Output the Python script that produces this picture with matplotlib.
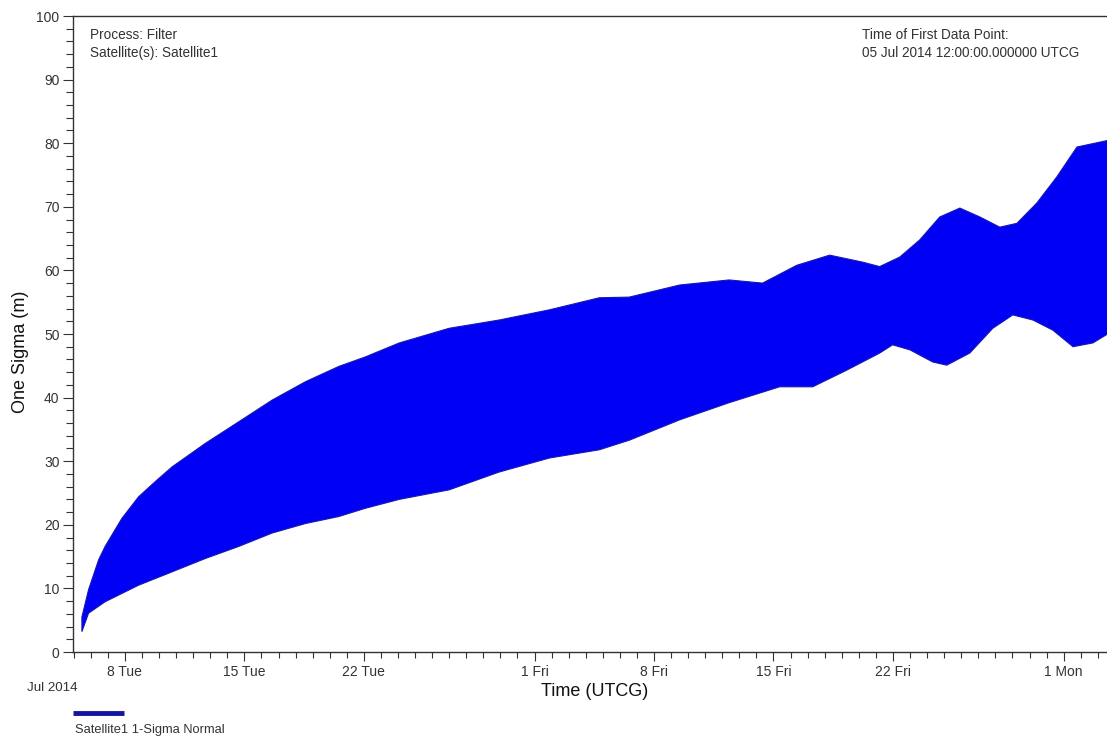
import numpy as np
import matplotlib
matplotlib.use("Agg")
import matplotlib.pyplot as plt
import matplotlib.dates as mdates
from datetime import datetime, timedelta

plt.rcParams['font.family'] = ['Liberation Sans', 'DejaVu Sans']

# start of the time axis (days are counted from here)
t0 = datetime(2014, 7, 5)

# upper envelope of the 1-sigma trace (days since t0, metres)
upper_days = [0.48, 0.87, 1.46, 1.84, 2.82, 3.80, 4.78, 5.76, 7.71, 9.67,
              11.62, 13.58, 15.53, 17.09, 19.08, 22.0, 24.93, 27.87, 30.8,
              32.55, 35.5, 38.4, 40.36, 42.36, 44.29, 46.22, 47.22, 48.4,
              49.57, 50.74, 51.92, 53.09, 54.26, 55.26, 56.43, 57.6, 58.78,
              60.7]
upper = [5.5, 9.8, 14.5, 16.6, 21.0, 24.4, 26.8, 29.1, 32.8, 36.2,
         39.6, 42.5, 44.9, 46.4, 48.6, 50.9, 52.2, 53.8, 55.7,
         55.8, 57.7, 58.5, 58.0, 60.8, 62.4, 61.3, 60.6, 62.1,
         64.8, 68.4, 69.8, 68.4, 66.8, 67.4, 70.6, 74.7, 79.4,
         80.5]

# lower envelope of the 1-sigma trace
lower_days = [0.48, 0.87, 1.84, 2.82, 3.80, 5.76, 7.71, 9.67, 11.62, 13.58,
              15.53, 17.09, 19.08, 22.0, 24.93, 27.87, 30.8, 32.55, 35.5,
              38.4, 41.36, 43.3, 45.28, 47.22, 47.98, 49.0, 50.33, 51.15,
              52.5, 53.85, 55.02, 56.2, 57.37, 58.55, 59.72, 60.7]
lower = [3.2, 6.1, 7.9, 9.2, 10.5, 12.6, 14.7, 16.6, 18.7, 20.2,
         21.3, 22.6, 24.0, 25.5, 28.3, 30.5, 31.8, 33.3, 36.5,
         39.2, 41.7, 41.7, 44.3, 47.0, 48.3, 47.5, 45.6, 45.1,
         47.0, 50.9, 53.0, 52.2, 50.6, 48.0, 48.6, 50.2]

tick_dates = ['2014-07-08', '2014-07-15', '2014-07-22', '2014-08-01',
              '2014-08-08', '2014-08-15', '2014-08-22', '2014-09-01']
tick_labels = ['8 Tue', '15 Tue', '22 Tue', '1 Fri',
               '8 Fri', '15 Fri', '22 Fri', '1 Mon']

txt_color = '#333333'

fig = plt.figure(figsize=(11.07, 7.38), dpi=100)
ax = fig.add_axes([73 / 1107, 1 - 652 / 738, 1 - 73 / 1107, (652 - 16) / 738])

up_t = [t0 + timedelta(days=d) for d in upper_days]
lo_t = [t0 + timedelta(days=d) for d in lower_days]
xs = mdates.date2num(up_t + lo_t[::-1])
ys = upper + lower[::-1]
ax.fill(xs, ys, facecolor='#0000f5', edgecolor='#1818b0', linewidth=0.8)

ax.set_xlim(mdates.date2num(t0 - timedelta(hours=1)),
            mdates.date2num(t0 + timedelta(days=60.54)))
ax.set_ylim(0, 100)

# x axis ticks
ax.set_xticks(mdates.date2num([datetime.strptime(s, '%Y-%m-%d') for s in tick_dates]))
ax.set_xticklabels(tick_labels)
ax.xaxis.set_minor_locator(mdates.DayLocator())
ax.set_yticks(np.arange(0, 101, 10))
ax.set_yticks(np.arange(0, 101, 2), minor=True)

ax.tick_params(axis='x', which='major', length=6.5, width=0.8, pad=2.5,
               labelsize=10, colors=txt_color)
ax.tick_params(axis='x', which='minor', length=4, width=0.8, color=txt_color)
ax.tick_params(axis='y', which='major', length=7.2, width=0.8, pad=2.5,
               labelsize=10, colors=txt_color)
ax.tick_params(axis='y', which='minor', length=5, width=0.8, color=txt_color)

for s in ['left', 'top', 'bottom']:
    ax.spines[s].set_color(txt_color)
    ax.spines[s].set_linewidth(1.0)
ax.spines['right'].set_visible(False)

ax.set_xlabel('Time (UTCG)', fontsize=13, color='#111111')
ax.xaxis.set_label_coords((595 - 73) / 1034, -(683 - 652) / 636)
ax.set_ylabel('One Sigma (m)', fontsize=13, color='#111111')
ax.yaxis.set_label_coords(-(73 - 29) / 1034, (652 - 352) / 636)

fig.text(52 / 1107, 1 - 688 / 738, 'Jul 2014', fontsize=9.6, color=txt_color,
         ha='center', va='center')

fig.text(90 / 1107, 1 - 35 / 738, 'Process: Filter', fontsize=9.8,
         color=txt_color, ha='left', va='center')
fig.text(90 / 1107, 1 - 53 / 738, 'Satellite(s): Satellite1', fontsize=9.8,
         color=txt_color, ha='left', va='center')
fig.text(862 / 1107, 1 - 35 / 738, 'Time of First Data Point:', fontsize=9.8,
         color=txt_color, ha='left', va='center')
fig.text(862 / 1107, 1 - 53 / 738, '05 Jul 2014 12:00:00.000000 UTCG',
         fontsize=9.8, color=txt_color, ha='left', va='center')

# legend drawn by hand under the axis
fig.add_artist(plt.Line2D([73 / 1107, 124 / 1107], [1 - 713 / 738, 1 - 713 / 738],
                          color='#1414a0', linewidth=3.5, solid_capstyle='butt'))
fig.text(75 / 1107, 1 - 730 / 738, 'Satellite1 1-Sigma Normal', fontsize=9.3,
         color=txt_color, ha='left', va='center')

fig.savefig('out.png', dpi=100)
